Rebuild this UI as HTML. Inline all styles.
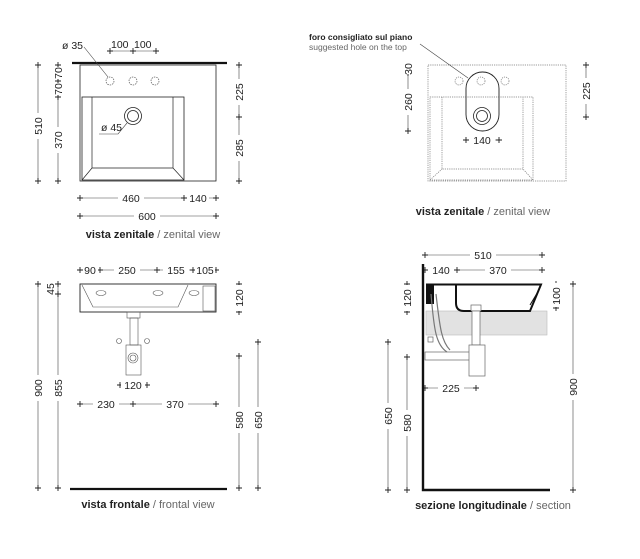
<!DOCTYPE html>
<html><head><meta charset="utf-8"><style>
html,body{margin:0;padding:0;background:#fff;}
svg{display:block;}
text{font-family:"Liberation Sans",sans-serif;font-size:10.5px;fill:#222;}
.t{font-size:11px;}
.b{font-weight:bold;}
.g{fill:#666;}
</style></head><body>
<svg width="640" height="559" viewBox="0 0 640 559" xmlns="http://www.w3.org/2000/svg">
<defs>
<marker id="tk" markerWidth="6" markerHeight="6" refX="3" refY="3" markerUnits="userSpaceOnUse"><path d="M3 0V6M0 3H6" stroke="#222" stroke-width="0.9"/></marker>
</defs>
<g stroke="#444" stroke-width="0.6" fill="none" marker-start="url(#tk)" marker-end="url(#tk)" marker-mid="url(#tk)">
<polyline points="38,65 38,181"/>
<polyline points="58,65 58,81 58,97 58,181"/>
<polyline points="239,65 239,117 239,181"/>
<polyline points="80,198 184,198 216,198"/>
<polyline points="80,216 216,216"/>
<polyline points="110,51 133,51 156,51"/>
<polyline points="408,65 408,73 408,131"/>
<polyline points="586,65 586,117"/>
<polyline points="466,140 499,140"/>
<polyline points="80,270 100,270 157,270 193,270 216,270"/>
<polyline points="38,284 38,488"/>
<polyline points="58,284 58,294 58,488"/>
<polyline points="239,284 239,312"/>
<polyline points="239,356 239,488"/>
<polyline points="258,342 258,488"/>
<polyline points="120,385 147,385"/>
<polyline points="80,404 133,404 216,404"/>
<polyline points="425,255 542,255"/>
<polyline points="425,270 457,270 542,270"/>
<polyline points="407,284 407,312"/>
<polyline points="556,284 556,308"/>
<polyline points="573,284 573,490"/>
<polyline points="388,342 388,490"/>
<polyline points="407,357 407,490"/>
<polyline points="425,388 476,388"/>
</g>
<g fill="#fff">
<rect x="32" y="113" width="12" height="26"/><rect x="52" y="67" width="12" height="12"/><rect x="52" y="83" width="12" height="12"/><rect x="52" y="127" width="12" height="26"/>
<rect x="233" y="79" width="12" height="26"/><rect x="233" y="135" width="12" height="26"/>
<rect x="118" y="192" width="26" height="12"/><rect x="187" y="192" width="22" height="12"/><rect x="134" y="210" width="26" height="12"/>
<rect x="402" y="62" width="12" height="12"/><rect x="402" y="89" width="12" height="26"/><rect x="580" y="78" width="12" height="26"/><rect x="469" y="134" width="26" height="12"/>
<rect x="83" y="264" width="15" height="12"/><rect x="114" y="264" width="26" height="12"/><rect x="163" y="264" width="26" height="12"/><rect x="195" y="264" width="20" height="12"/>
<rect x="32" y="375" width="12" height="26"/><rect x="52" y="375" width="12" height="26"/><rect x="233" y="285" width="12" height="26"/><rect x="233" y="407" width="12" height="26"/><rect x="252" y="407" width="12" height="26"/>
<rect x="121" y="379" width="24" height="12"/><rect x="93" y="398" width="26" height="12"/><rect x="162" y="398" width="26" height="12"/>
<rect x="470" y="249" width="26" height="12"/><rect x="428" y="264" width="26" height="12"/><rect x="485" y="264" width="26" height="12"/>
<rect x="401" y="285" width="12" height="26"/><rect x="550" y="283" width="12" height="24"/><rect x="567" y="374" width="12" height="26"/><rect x="382" y="403" width="12" height="26"/><rect x="401" y="410" width="12" height="26"/><rect x="438" y="382" width="26" height="12"/>
</g>
<!-- VIEW 1 -->
<line x1="72" y1="63" x2="227" y2="63" stroke="#111" stroke-width="2.2"/>
<rect x="80" y="65" width="136" height="116" fill="none" stroke="#222" stroke-width="0.8"/>
<rect x="82" y="97" width="102" height="83" fill="none" stroke="#222" stroke-width="0.8"/>
<path d="M92 97V168H173V97M82 180L92 168M184 180L173 168" fill="none" stroke="#222" stroke-width="0.7"/>
<g fill="none" stroke="#555" stroke-width="0.7" stroke-dasharray="1.5 1"><circle cx="110" cy="81" r="4"/><circle cx="133" cy="81" r="4"/><circle cx="155" cy="81" r="4"/></g>
<circle cx="133" cy="116" r="8.5" fill="none" stroke="#222" stroke-width="0.8"/><circle cx="133" cy="116" r="5.5" fill="none" stroke="#222" stroke-width="0.8"/>
<path d="M84 47L108 77M99 134H118L127 123" fill="none" stroke="#444" stroke-width="0.6"/>
<text x="62" y="49">ø 35</text><text x="111" y="48">100</text><text x="134" y="48">100</text>
<text x="101" y="131">ø 45</text>
<text transform="translate(42,126) rotate(-90)" text-anchor="middle">510</text>
<text transform="translate(62,73) rotate(-90)" text-anchor="middle">70</text>
<text transform="translate(62,89) rotate(-90)" text-anchor="middle">70</text>
<text transform="translate(62,140) rotate(-90)" text-anchor="middle">370</text>
<text transform="translate(243,92) rotate(-90)" text-anchor="middle">225</text>
<text transform="translate(243,148) rotate(-90)" text-anchor="middle">285</text>
<text x="131" y="202" text-anchor="middle">460</text><text x="198" y="202" text-anchor="middle">140</text><text x="147" y="220" text-anchor="middle">600</text>
<text class="t" x="153" y="238" text-anchor="middle"><tspan class="b">vista zenitale</tspan><tspan class="g"> / zenital view</tspan></text>
<!-- VIEW 2 -->
<g fill="none" stroke="#777" stroke-width="0.7" stroke-dasharray="1.2 1">
<rect x="428" y="65" width="138" height="116"/>
<rect x="430" y="97" width="103" height="83"/>
<path d="M442 97V169H523V97M430 180L442 169M533 180L523 169"/>
<circle cx="459" cy="81" r="4"/><circle cx="481" cy="81" r="4"/><circle cx="505" cy="81" r="4"/>
</g>
<rect x="466" y="72" width="33" height="59" rx="16.5" fill="none" stroke="#222" stroke-width="0.9"/>
<circle cx="482" cy="116" r="8.5" fill="none" stroke="#222" stroke-width="0.8"/><circle cx="482" cy="116" r="5.5" fill="none" stroke="#222" stroke-width="0.8"/>
<path d="M420 44L468 78" stroke="#444" stroke-width="0.6"/>
<text x="309" y="40" style="font-size:8.5px" class="b">foro consigliato sul piano</text>
<text x="309" y="50" style="font-size:8.5px" class="g">suggested hole on the top</text>
<text transform="translate(412,69) rotate(-90)" text-anchor="middle">30</text>
<text transform="translate(412,102) rotate(-90)" text-anchor="middle">260</text>
<text transform="translate(590,91) rotate(-90)" text-anchor="middle">225</text>
<text x="482" y="144" text-anchor="middle">140</text>
<text class="t" x="483" y="215" text-anchor="middle"><tspan class="b">vista zenitale</tspan><tspan class="g"> / zenital view</tspan></text>
<!-- VIEW 3 -->
<rect x="80" y="284" width="136" height="28" fill="none" stroke="#222" stroke-width="0.9"/>
<g fill="none" stroke="#555" stroke-width="0.6">
<path d="M82 285L93 307H178L188 285"/>
<rect x="203" y="286" width="12" height="25"/>
<ellipse cx="101" cy="293" rx="5" ry="2.5"/><ellipse cx="158" cy="293" rx="5" ry="2.5"/><ellipse cx="194" cy="293" rx="5" ry="2.5"/>
<rect x="127" y="312" width="13" height="6"/>
<rect x="130" y="318" width="8" height="27"/>
<rect x="126" y="345" width="15" height="30"/>
<circle cx="133" cy="358" r="5"/><circle cx="133" cy="358" r="3"/>
<circle cx="119" cy="341" r="2.5"/><circle cx="147" cy="341" r="2.5"/>
</g>
<line x1="70" y1="489" x2="227" y2="489" stroke="#111" stroke-width="2.2"/>
<text x="90" y="274" text-anchor="middle">90</text><text x="127" y="274" text-anchor="middle">250</text><text x="176" y="274" text-anchor="middle">155</text><text x="205" y="274" text-anchor="middle">105</text>
<text transform="translate(42,388) rotate(-90)" text-anchor="middle">900</text>
<text transform="translate(54,289) rotate(-90)" text-anchor="middle">45</text>
<text transform="translate(62,388) rotate(-90)" text-anchor="middle">855</text>
<text transform="translate(243,298) rotate(-90)" text-anchor="middle">120</text>
<text transform="translate(243,420) rotate(-90)" text-anchor="middle">580</text>
<text transform="translate(262,420) rotate(-90)" text-anchor="middle">650</text>
<text x="133" y="389" text-anchor="middle">120</text><text x="106" y="408" text-anchor="middle">230</text><text x="175" y="408" text-anchor="middle">370</text>
<text class="t" x="148" y="508" text-anchor="middle"><tspan class="b">vista frontale</tspan><tspan class="g"> / frontal view</tspan></text>
<!-- VIEW 4 -->
<rect x="426" y="311" width="121" height="24" fill="#e2e2e2" stroke="#bbb" stroke-width="0.6"/>
<path d="M423 264V490H550" fill="none" stroke="#111" stroke-width="2.4"/>
<rect x="426" y="284" width="8" height="20" fill="#111"/>
<path d="M426 284.5H541L530 311H464Q456 311 456 303V284.5" fill="none" stroke="#111" stroke-width="2"/>
<path d="M530 305L539 290" stroke="#111" stroke-width="1"/>
<g fill="#fff" stroke="#666" stroke-width="0.7">
<rect x="471" y="305" width="10" height="6"/>
<rect x="472" y="311" width="8" height="34"/>
<rect x="425" y="352" width="47" height="8"/>
<rect x="469" y="345" width="16" height="31"/>
</g>
<path d="M431 294C434 330 436 345 447 352M436 294C440 330 442 342 450 350" fill="none" stroke="#777" stroke-width="1.2"/>
<rect x="428" y="337" width="5" height="5" fill="none" stroke="#666" stroke-width="0.7"/>
<text x="483" y="259" text-anchor="middle">510</text><text x="441" y="274" text-anchor="middle">140</text><text x="498" y="274" text-anchor="middle">370</text>
<text transform="translate(411,298) rotate(-90)" text-anchor="middle">120</text>
<text transform="translate(560,296) rotate(-90)" text-anchor="middle">100</text>
<text transform="translate(577,387) rotate(-90)" text-anchor="middle">900</text>
<text transform="translate(392,416) rotate(-90)" text-anchor="middle">650</text>
<text transform="translate(411,423) rotate(-90)" text-anchor="middle">580</text>
<text x="451" y="392" text-anchor="middle">225</text>
<text class="t" x="493" y="509" text-anchor="middle"><tspan class="b">sezione longitudinale</tspan><tspan class="g"> / section</tspan></text>
</svg>
</body></html>
